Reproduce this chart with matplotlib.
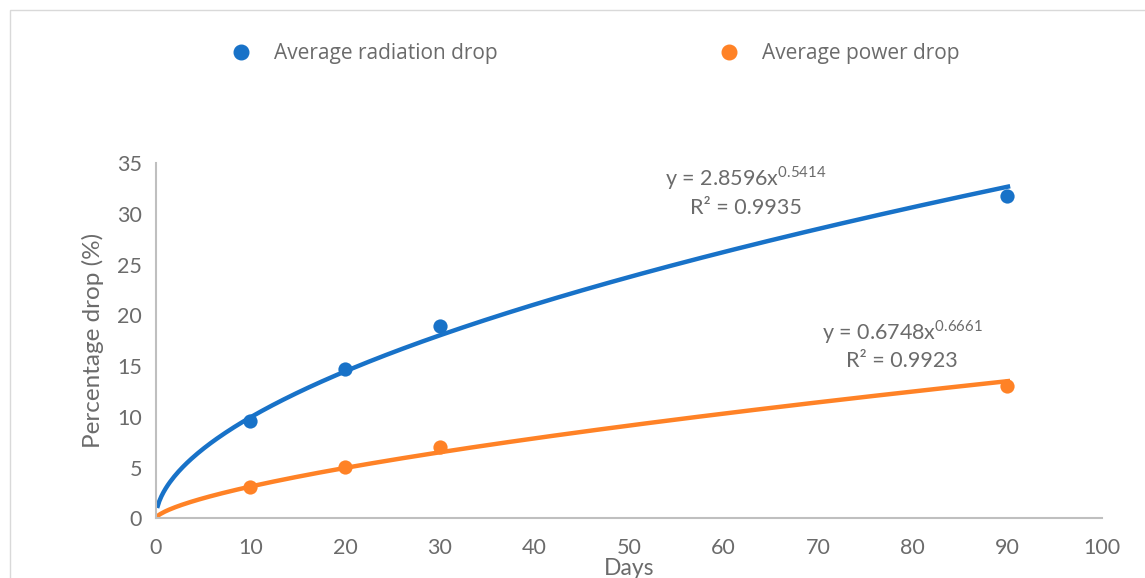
import numpy as np
import matplotlib
matplotlib.use("Agg")
import matplotlib.pyplot as plt
from matplotlib.lines import Line2D
from matplotlib.patches import Rectangle

days = [10, 20, 30, 90]
radiation_drop = [9.62, 14.72, 18.96, 31.8]
power_drop = [3.06, 5.03, 7.03, 13.07]
rad_coef, rad_exp, rad_r2 = 2.8596, 0.5414, 0.9935
pow_coef, pow_exp, pow_r2 = 0.6748, 0.6661, 0.9923
x_ticks = [0, 10, 20, 30, 40, 50, 60, 70, 80, 90, 100]
y_ticks = [0, 5, 10, 15, 20, 25, 30, 35]

BLUE = "#1872C8"
ORANGE = "#FF8226"
GRAY = "#6B6B6B"
AXIS = "#BFBFBF"
FONT = ["Lato", "DejaVu Sans"]
plt.rcParams['font.family'] = FONT

fig = plt.figure(figsize=(11.45, 5.78), dpi=100)
fig.patches.append(Rectangle((10/1145, -0.1), 1.2, 1 - 10/578 + 0.1, transform=fig.transFigure,
                             fill=False, edgecolor="#D9D9D9", linewidth=1.0))
ax = fig.add_axes([0.136, 0.1033, 0.8264, 0.6142])

xr = np.linspace(0.15, 90.3, 400)
ax.plot(xr, rad_coef * xr ** rad_exp, color=BLUE, lw=3.2, solid_capstyle="butt", zorder=2)
xp = np.linspace(0.05, 90.3, 400)
ax.plot(xp, pow_coef * xp ** pow_exp, color=ORANGE, lw=3.2, solid_capstyle="butt", zorder=2)
ax.scatter(days, radiation_drop, s=105, color=BLUE, zorder=3, linewidths=0)
ax.scatter(days, power_drop, s=105, color=ORANGE, zorder=3, linewidths=0)

ax.set_xlim(0, 100)
ax.set_ylim(0, 35)
ax.set_xticks(x_ticks)
ax.set_yticks(y_ticks)
ax.tick_params(length=0, labelsize=15.5, labelcolor=GRAY, pad=14)
ax.tick_params(axis='y', pad=10)
for s in ["top", "right"]:
    ax.spines[s].set_visible(False)
for s in ["left", "bottom"]:
    ax.spines[s].set_color(AXIS)
    ax.spines[s].set_linewidth(1.5)

ax.set_ylabel("Percentage drop (%)", fontsize=17.5, color=GRAY, labelpad=9)
ax.set_xlabel("Days", fontsize=16.5, color=GRAY, labelpad=0)

ax.text(0.624, 0.958, r"y = 2.8596x$^{\mathregular{0.5414}}$", transform=ax.transAxes,
        fontsize=15.5, color=GRAY, ha="center", va="center")
ax.text(0.624, 0.874, "R² = 0.9935", transform=ax.transAxes, fontsize=15.5, color=GRAY,
        ha="center", va="center")
ax.text(0.789, 0.525, r"y = 0.6748x$^{\mathregular{0.6661}}$", transform=ax.transAxes,
        fontsize=15.5, color=GRAY, ha="center", va="center")
ax.text(0.789, 0.443, "R² = 0.9923", transform=ax.transAxes, fontsize=15.5, color=GRAY,
        ha="center", va="center")

handles = [Line2D([], [], marker="o", ls="none", color=BLUE, markersize=10.5),
           Line2D([], [], marker="o", ls="none", color=ORANGE, markersize=10.5)]
leg = fig.legend(handles, ["Average radiation drop", "Average power drop"], ncol=2,
                 loc="center", bbox_to_anchor=(0.515, 0.907), frameon=False,
                 prop={"family": ["Open Sans", "DejaVu Sans"], "size": 15},
                 columnspacing=10.1, handletextpad=0.6)
for t in leg.get_texts():
    t.set_color(GRAY)

fig.savefig("out.png", dpi=100)
